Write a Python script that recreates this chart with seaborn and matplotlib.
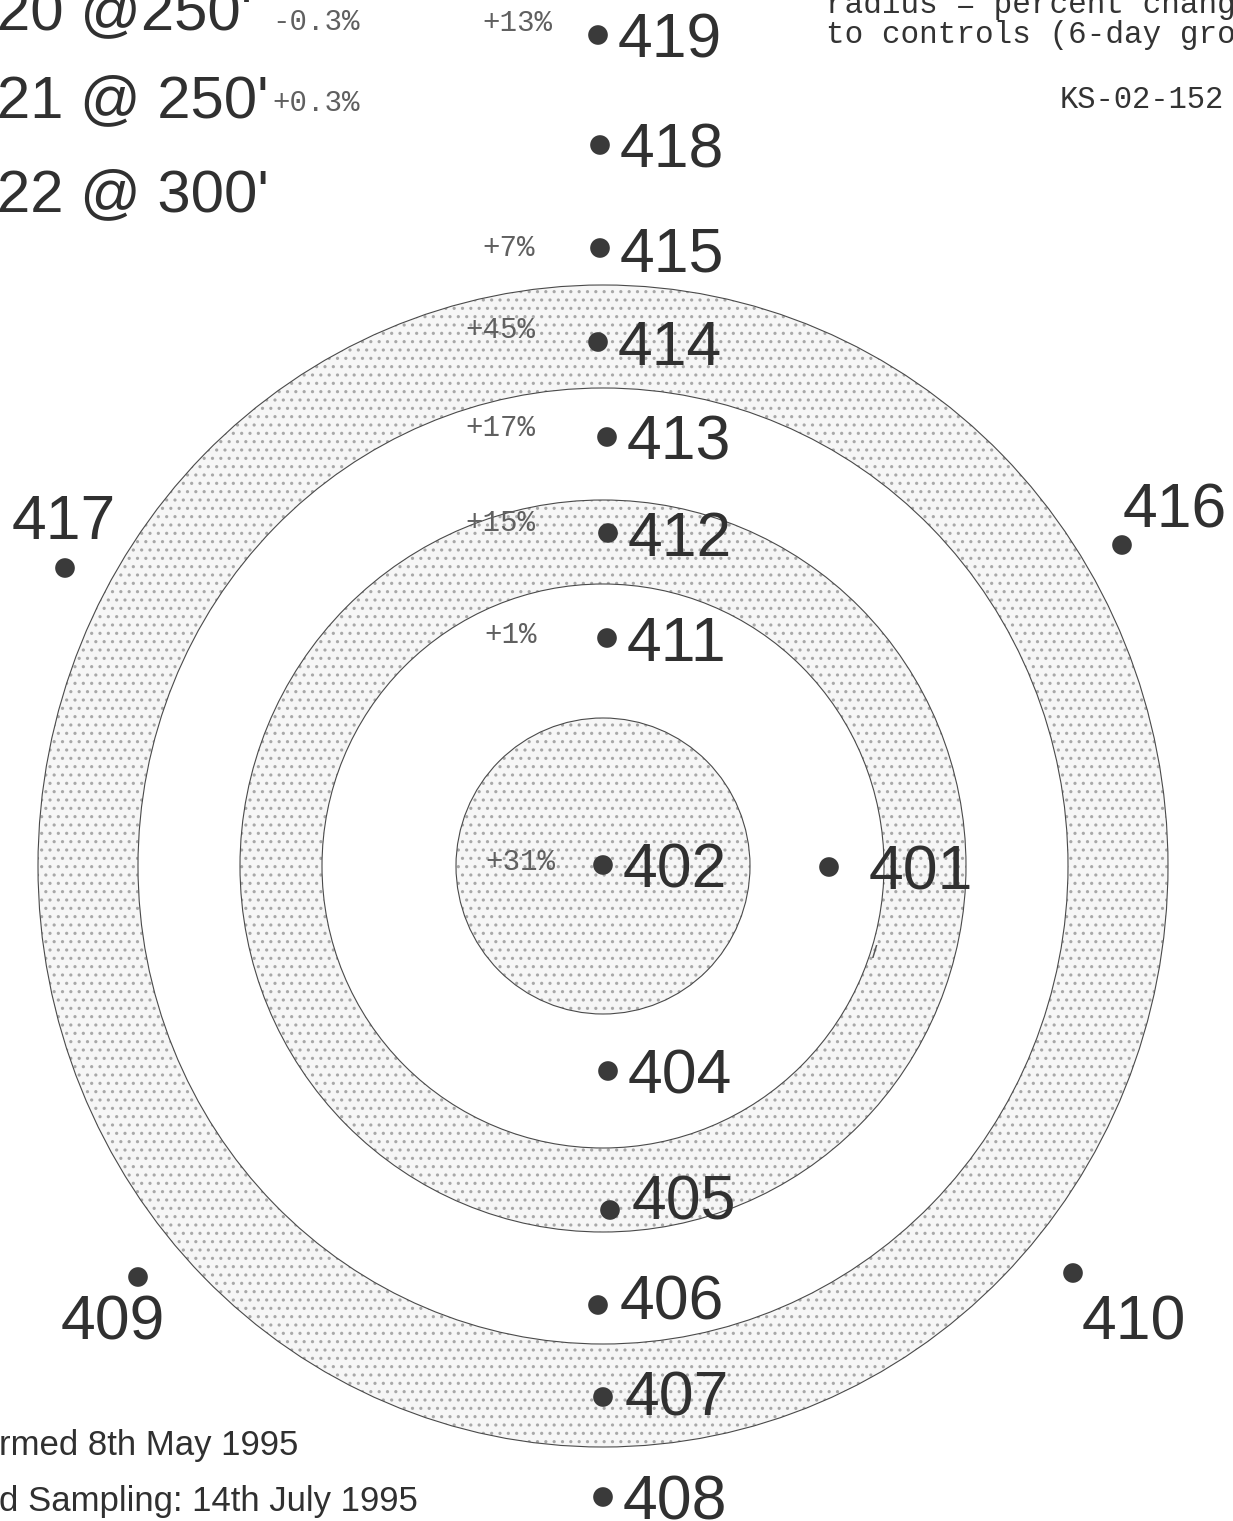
import pandas as pd
import matplotlib.pyplot as plt
import seaborn as sns
from matplotlib.patches import Ellipse

# station positions, map units relative to the centre station (x east, y north)
stations = [419, 418, 415, 414, 413, 412, 411, 402, 401, 404, 405, 406, 407, 408, 417, 416, 409, 410]
east = [-5, -3, -3, -5, 4, 5, 4, 0, 226, 5, 7, -5, 0, 0, -538, 519, -465, 470]
north = [831, 721, 618, 524, 429, 333, 228, 1, -1, -205, -344, -439, -531, -631, 298, 321, -411, -407]

# percent change in radius vs controls
pct_station = [419, 415, 414, 413, 412, 411, 402]
pct_value = ['+13%', '+7%', '+45%', '+17%', '+15%', '+1%', '+31%']

# ring boundaries (semi axes: horizontal, vertical), outer to inner
ring_w = [565, 465, 363, 281, 147]
ring_h = [581, 478, 366, 282, 148]
ring_fill = [True, False, True, False, True]

# reference stations in the corner
ref_names = ["20 @250'", "21 @ 250'", "22 @ 300'"]
ref_pct = ['-0.3%', '+0.3%']

note_lines = ['radius = percent chang', 'to controls (6-day gro']
code_label = 'KS-02-152'
date_lines = ['rmed 8th May 1995', 'd Sampling: 14th July 1995']

df = pd.DataFrame({'station': stations, 'east': east, 'north': north})

sns.set_style('white')
plt.rcParams['hatch.linewidth'] = 1.1
sans = ['Liberation Sans', 'DejaVu Sans']
mono = ['Liberation Mono', 'DejaVu Sans Mono']

fig = plt.figure(figsize=(12.33, 15.21), dpi=100)
ax = fig.add_axes([0, 0, 1, 1])

# stippled / white rings, outermost first
for w, h, filled in zip(ring_w, ring_h, ring_fill):
    if filled:
        ax.add_patch(Ellipse((0, 0), 2 * w, 2 * h, facecolor='#f6f6f6',
                             edgecolor='#a8a8a8', hatch='..', lw=0, zorder=1))
    else:
        ax.add_patch(Ellipse((0, 0), 2 * w, 2 * h, facecolor='white',
                             edgecolor='none', zorder=1))
    ax.add_patch(Ellipse((0, 0), 2 * w, 2 * h, facecolor='none',
                         edgecolor='#4a4a4a', lw=0.8, zorder=2))

sns.scatterplot(data=df, x='east', y='north', ax=ax, s=200, color='#3a3a3a',
                edgecolor='none', legend=False, zorder=5)
ax.set_xlim(-603, 630)
ax.set_ylim(-655, 866)
ax.axis('off')

# label placement (dx, dy, ha) relative to the dot
offsets = {401: (40, 0, 'left'), 405: (22, 13, 'left'), 406: (22, 8, 'left'),
           407: (22, 4, 'left'), 417: (-1, 52, 'center'), 416: (53, 40, 'center'),
           409: (-25, -39, 'center'), 410: (61, -44, 'center')}
for st, x, y in zip(stations, east, north):
    dx, dy, ha = offsets.get(st, (20, 0, 'left'))
    ax.text(x + dx, y + dy, str(st), fontsize=45, family=sans, color='#303030',
            ha=ha, va='center_baseline', zorder=6)

pos = dict(zip(stations, zip(east, north)))
pct_dx = {419: -46, 415: -65, 414: -63, 413: -72, 412: -73, 411: -70, 402: -48}
pct_dy = {419: 12, 415: 0, 414: 12, 413: 9, 412: 10, 411: 3, 402: 3}
for st, txt in zip(pct_station, pct_value):
    x, y = pos[st]
    ax.text(x + pct_dx[st], y + pct_dy[st], txt, fontsize=21, family=mono,
            color='#606060', ha='right', va='center', zorder=6)

for name, y in zip(ref_names, [858, 770, 676]):
    ax.text(-606, y, name, fontsize=43, family=sans, color='#303030',
            ha='left', va='center_baseline')
for p, y in zip(ref_pct, [844, 763]):
    ax.text(-331, y, p, fontsize=21, family=mono, color='#606060',
            ha='left', va='center')

for i, line in enumerate(note_lines):
    ax.text(223, 861 - 30 * i, line, fontsize=22.3, family=mono, color='#333333',
            ha='left', va='center')
ax.text(457, 766, code_label, fontsize=22, family=mono, color='#333333',
        ha='left', va='center')

for i, line in enumerate(date_lines):
    ax.text(-604, -579 - 57 * i, line, fontsize=25, family=sans, color='#303030',
            ha='left', va='center')

# stray pen mark beside the inner ring
ax.text(272, -88, '/', fontsize=14, family=sans, color='#555555', ha='center', va='center')

fig.savefig('out.png', dpi=100)
